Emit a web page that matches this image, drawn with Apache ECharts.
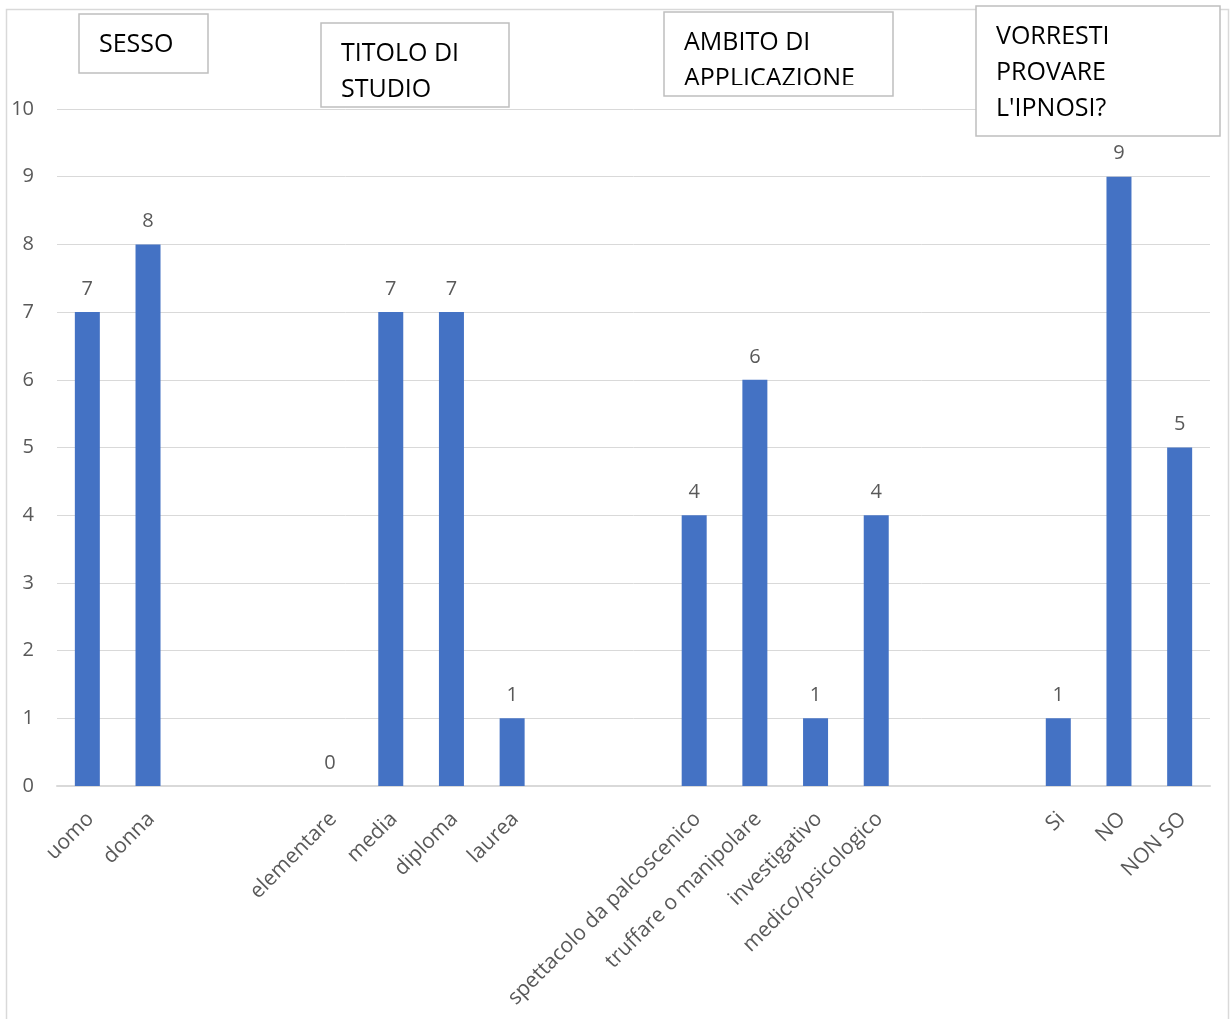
<!DOCTYPE html>
<html>
<head>
<meta charset="utf-8">
<title>Ipnosi - sondaggio</title>
<script src="https://cdn.jsdelivr.net/npm/echarts@6/dist/echarts.min.js"></script>
<style>
  html, body { margin: 0; padding: 0; background: #fff; }
  #chart { width: 1230px; height: 1019px; }
</style>
</head>
<body>
<div id="chart"></div>
<script>
// ===== dati =====
var sessoLabels = ['uomo', 'donna'];
var sessoValues = [7, 8];

var titoloLabels = ['elementare', 'media', 'diploma', 'laurea'];
var titoloValues = [0, 7, 7, 1];

var ambitoLabels = ['spettacolo da palcoscenico', 'truffare o manipolare', 'investigativo', 'medico/psicologico'];
var ambitoValues = [4, 6, 1, 4];

var provareLabels = ['Si', 'NO', 'NON SO'];
var provareValues = [1, 9, 5];

var yTicks = [0, 1, 2, 3, 4, 5, 6, 7, 8, 9, 10];

// due categorie vuote fra un gruppo e l'altro
var GAP = 2;

var FONT = '"Open Sans", "Noto Sans", sans-serif';
var BAR_COLOR = '#4472C4';
var TEXT_GRAY = '#595959';
var LINE_GRAY = '#d9d9d9';

function buildAxis() {
  var groups = [
    [sessoLabels, sessoValues],
    [titoloLabels, titoloValues],
    [ambitoLabels, ambitoValues],
    [provareLabels, provareValues]
  ];
  var cats = [], vals = [];
  groups.forEach(function(g, gi) {
    if (gi > 0) {
      for (var k = 0; k < GAP; k++) { cats.push(''); vals.push('-'); }
    }
    g[0].forEach(function(name, i) {
      cats.push(name);
      vals.push(g[1][i]);
    });
  });
  return { cats: cats, vals: vals };
}

// riquadri di testo sopra il grafico
function textBox(x, y, w, h, lines, clipY) {
  var children = [{
    type: 'rect',
    shape: { x: x, y: y, width: w, height: h },
    style: { fill: '#fff', stroke: '#bfbfbf', lineWidth: 1.5 },
    z: 10
  }];
  lines.forEach(function(t, i) {
    children.push({
      type: 'text',
      x: x + 20,
      y: y + 18 + i * 36,
      style: { text: t, font: '25px ' + FONT, fill: '#000', textBaseline: 'top' },
      z: 11
    });
  });
  if (clipY) {
    // testo tagliato in basso come nell'originale
    children.push({
      type: 'rect',
      shape: { x: x + 1, y: clipY, width: w - 2, height: y + h - clipY - 1 },
      style: { fill: '#fff' },
      z: 12
    });
  }
  return { type: 'group', children: children };
}

var axisData = buildAxis();
var chart = echarts.init(document.getElementById('chart'), null, { renderer: 'canvas' });

var option = {
  animation: false,
  backgroundColor: '#fff',
  textStyle: { fontFamily: FONT },
  grid: { left: 57, right: 20, top: 109, bottom: 233, containLabel: false },
  xAxis: {
    type: 'category',
    data: axisData.cats,
    axisLine: { lineStyle: { color: LINE_GRAY, width: 2 } },
    axisTick: { show: false },
    axisLabel: {
      interval: 0,
      rotate: 45,
      align: 'right',
      verticalAlign: 'top',
      margin: 18,
      padding: [0, 6, 0, 0],
      color: TEXT_GRAY,
      fontSize: 21,
      fontFamily: FONT
    }
  },
  yAxis: {
    type: 'value',
    min: yTicks[0],
    max: yTicks[yTicks.length - 1],
    interval: 1,
    axisLine: { show: false },
    axisTick: { show: false },
    axisLabel: { color: TEXT_GRAY, fontSize: 20, margin: 23, fontFamily: FONT },
    splitLine: { lineStyle: { color: LINE_GRAY, width: 1 } }
  },
  series: [{
    type: 'bar',
    data: axisData.vals,
    barWidth: 25,
    itemStyle: { color: BAR_COLOR },
    label: {
      show: true,
      position: 'top',
      distance: 13,
      color: TEXT_GRAY,
      fontSize: 20,
      fontFamily: FONT
    }
  }],
  graphic: [
    {
      type: 'rect',
      shape: { x: 6.5, y: 9.5, width: 1222, height: 1030 },
      style: { fill: 'none', stroke: LINE_GRAY, lineWidth: 1.5 },
      z: 1,
      silent: true
    },
    textBox(79, 14, 129, 59, ['SESSO']),
    textBox(321, 23, 188, 84, ['TITOLO DI', 'STUDIO']),
    textBox(664, 12, 229, 84, ['AMBITO DI', 'APPLICAZIONE'], 85),
    textBox(976, 6, 244, 130, ['VORRESTI', 'PROVARE', "L'IPNOSI?"])
  ]
};

chart.setOption(option);
</script>
</body>
</html>
